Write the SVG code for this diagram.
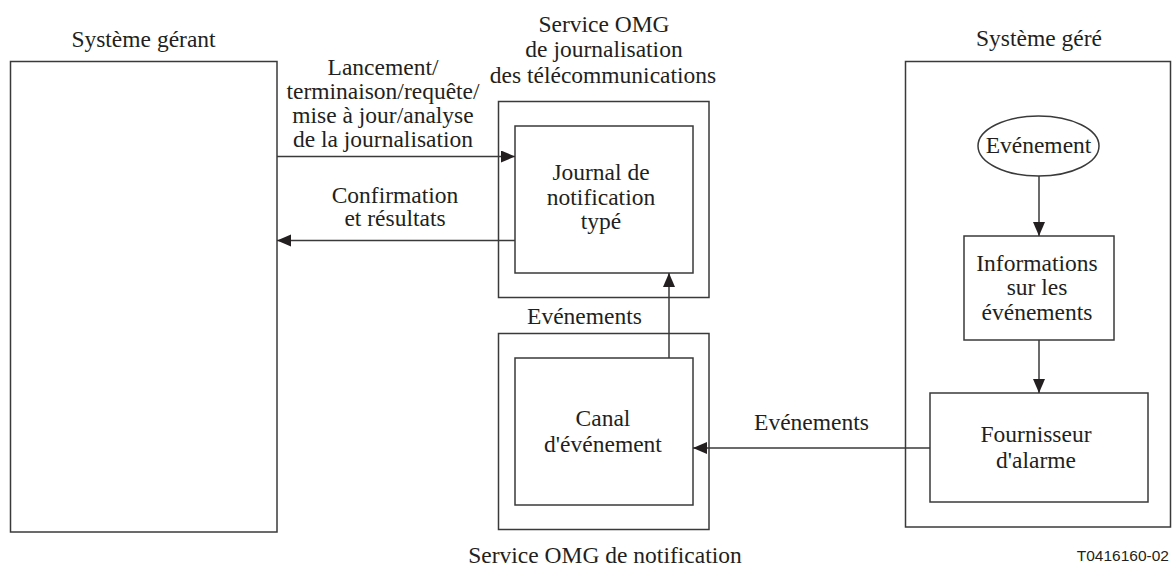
<svg xmlns="http://www.w3.org/2000/svg" width="1173" height="573" viewBox="0 0 1173 573">
<style>
  .box{fill:none;stroke:#3a3a3a;stroke-width:1.5}
  .t{font-family:"Liberation Serif","Times New Roman",serif;font-size:23.5px;fill:#231f20;text-anchor:middle}
  .c{fill:none;stroke:#3a3a3a;stroke-width:1.5}
  .ref{font-family:"Liberation Sans",Arial,sans-serif;font-size:15.5px;fill:#231f20;text-anchor:end}
</style>
<defs>
  <marker id="ah" markerUnits="userSpaceOnUse" markerWidth="15" markerHeight="13" refX="14" refY="6" orient="auto">
    <path d="M0,0 L14,6 L0,12 z" fill="#231f20"/>
  </marker>
</defs>
<rect width="1173" height="573" fill="#fff"/>

<g id="systeme-gerant">
  <rect class="box" x="10.5" y="61.5" width="266.5" height="470.5"/>
  <text class="t" x="143.5" y="47">Système gérant</text>
</g>

<g id="service-journalisation">
  <rect class="box" x="498.5" y="101.5" width="210.5" height="196"/>
  <text class="t" x="604" y="32">Service OMG</text>
  <text class="t" x="604" y="57">de journalisation</text>
  <text class="t" x="603" y="82.5">des télécommunications</text>
</g>

<g id="journal-notification">
  <rect class="box" x="515" y="126" width="178" height="147"/>
  <text class="t" x="601" y="180">Journal de</text>
  <text class="t" x="601" y="205">notification</text>
  <text class="t" x="601" y="229">typé</text>
</g>

<g id="service-notification">
  <rect class="box" x="498.5" y="333.5" width="210.5" height="196"/>
  <text class="t" x="584.5" y="324">Evénements</text>
  <text class="t" x="605" y="563">Service OMG de notification</text>
</g>

<g id="canal-evenement">
  <rect class="box" x="515" y="358" width="178" height="147"/>
  <text class="t" x="603" y="425.5">Canal</text>
  <text class="t" x="603" y="452">d'événement</text>
</g>

<g id="systeme-gere">
  <rect class="box" x="905.5" y="61.5" width="265" height="465.5"/>
  <text class="t" x="1039" y="46">Système géré</text>
</g>

<g id="evenement">
  <ellipse class="box" cx="1038.5" cy="146" rx="60.5" ry="30"/>
  <text class="t" x="1038.5" y="153">Evénement</text>
</g>

<g id="informations">
  <rect class="box" x="964" y="236" width="150" height="104"/>
  <text class="t" x="1037" y="270.5">Informations</text>
  <text class="t" x="1037" y="295">sur les</text>
  <text class="t" x="1037" y="320">événements</text>
</g>

<g id="fournisseur">
  <rect class="box" x="930" y="393" width="218" height="109"/>
  <text class="t" x="1036" y="441.5">Fournisseur</text>
  <text class="t" x="1036" y="468">d'alarme</text>
</g>

<g id="connectors">
  <line class="c" x1="277" y1="156.5" x2="515" y2="156.5" marker-end="url(#ah)"/>
  <line class="c" x1="515" y1="240.5" x2="277" y2="240.5" marker-end="url(#ah)"/>
  <line class="c" x1="669" y1="358" x2="669" y2="273" marker-end="url(#ah)"/>
  <line class="c" x1="930" y1="448" x2="693" y2="448" marker-end="url(#ah)"/>
  <line class="c" x1="1039" y1="176" x2="1039" y2="236" marker-end="url(#ah)"/>
  <line class="c" x1="1039" y1="340" x2="1039" y2="393" marker-end="url(#ah)"/>
  <text class="t" x="383" y="75">Lancement/</text>
  <text class="t" x="383" y="99">terminaison/requête/</text>
  <text class="t" x="383" y="123">mise à jour/analyse</text>
  <text class="t" x="383" y="147">de la journalisation</text>
  <text class="t" x="395" y="202.5">Confirmation</text>
  <text class="t" x="395" y="226">et résultats</text>
  <text class="t" x="811.5" y="430">Evénements</text>
</g>

<text class="ref" x="1169" y="560.5">T0416160-02</text>
</svg>
